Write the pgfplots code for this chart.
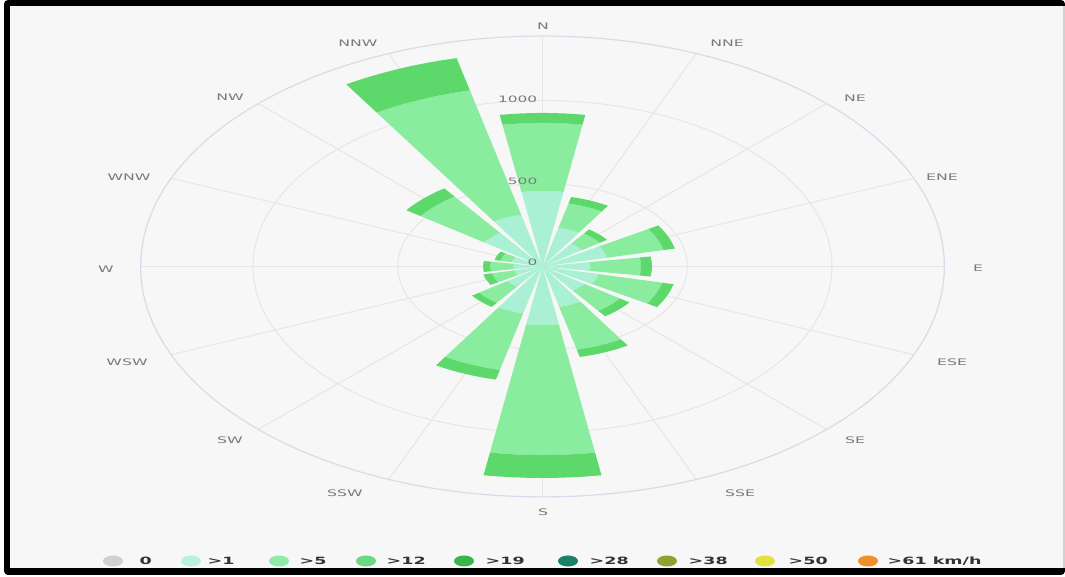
\documentclass[border=0pt]{standalone}
\usepackage{pgfplots}
\pgfplotsset{compat=1.18}
\usepackage{pgfplotstable}
\usepackage{fontspec}
\setmainfont{DejaVu Sans}
\definecolor{bg}{HTML}{F7F7F7}
\definecolor{gridc}{HTML}{E6E6E6}
\definecolor{outerc}{HTML}{D8DCEA}
\definecolor{lab}{HTML}{7A7A7A}
\definecolor{legt}{HTML}{333333}
\definecolor{c0}{HTML}{D0D0D0}
\definecolor{c1}{HTML}{A9F0D5}
\definecolor{c5}{HTML}{8AEC9F}
\definecolor{c12}{HTML}{5DD96C}
\definecolor{l1}{HTML}{B8F2DF}
\definecolor{l5}{HTML}{90EBA8}
\definecolor{l12}{HTML}{6DD882}
\definecolor{c19}{HTML}{3BB54A}
\definecolor{c28}{HTML}{1B8068}
\definecolor{c38}{HTML}{8DA330}
\definecolor{c50}{HTML}{E3E140}
\definecolor{c61}{HTML}{EE8F2C}

% direction (compass degrees) and frequency per speed class
\pgfplotstableread{
dir    s1   s5   s12
0      455  410  60
22.5   240  150  40
45     170  75   30
67.5   230  200  40
90     165  175  38
112.5  200  225  40
135    180  150  40
157.5  250  265  45
180    352  784  138
202.5  290  350  60
225    150  120  30
247.5  100  80   30
270    100  80   25
292.5  110  40   20
315    250  270  60
337.5  320  770  200
}\windtable

\def\halfw{9.2}
\newcommand\sector[4]{%
  \pgfmathsetmacro\thc{90-#1}%
  \gdef\secpts{}%
  \foreach \k in {0,...,8}{%
    \pgfmathsetmacro\ang{\thc+\halfw-2*\halfw*\k/8}%
    \xdef\secpts{\secpts (\ang,#3)}%
  }%
  \foreach \k in {0,...,8}{%
    \pgfmathsetmacro\ang{\thc-\halfw+2*\halfw*\k/8}%
    \xdef\secpts{\secpts (\ang,#2)}%
  }%
  \edef\tmp{\noexpand\addplot[fill=#4,draw=none,data cs=polar,forget plot] coordinates {\secpts} -- cycle;}%
  \tmp
}

\pgfplotstablegetrowsof{\windtable}
\pgfmathtruncatemacro\lastrow{\pgfplotsretval-1}

\begin{document}
\begin{tikzpicture}
\begin{scope}[x=0.5pt,y=-0.5pt,yshift=288.5pt]
  \fill[white] (0,0) rectangle (1065,577);
  \fill[black, rounded corners=2pt] (4,0) rectangle (1065,575);
  \fill[bg] (10,6) rectangle (1063,568);
  \fill[gray!35] (1063,6) rectangle (1065,568);
\end{scope}

\begin{axis}[at={(0,0)}, anchor=south west, scale only axis,
  width=532.5pt, height=288.5pt,
  xmin=-1873.9, xmax=1804.8, ymin=-1870.5, ymax=1605.4,
  hide axis]
  % grid circles
  \draw[gridc, line width=0.5pt] (axis cs:0,0) ellipse [x radius=500, y radius=500];
  \draw[gridc, line width=0.5pt] (axis cs:0,0) ellipse [x radius=1000, y radius=1000];
  % spokes
  \pgfplotsinvokeforeach{0,22.5,45,67.5,90,112.5,135,157.5,180,202.5,225,247.5,270,292.5,315,337.5}{
    \draw[gridc, line width=0.5pt] (axis cs:0,0) -- (axis cs:{1388*sin(#1)},{1388*cos(#1)});
  }
  \draw[outerc, line width=0.6pt] (axis cs:0,0) ellipse [x radius=1388, y radius=1388];
  % wind sectors
  \pgfplotsforeachungrouped \i in {0,...,\lastrow}{%
    \pgfplotstablegetelem{\i}{dir}\of\windtable \let\dd\pgfplotsretval
    \pgfplotstablegetelem{\i}{s1}\of\windtable \let\va\pgfplotsretval
    \pgfplotstablegetelem{\i}{s5}\of\windtable \let\vb\pgfplotsretval
    \pgfplotstablegetelem{\i}{s12}\of\windtable \let\vc\pgfplotsretval
    \pgfmathsetmacro\ra{\va}%
    \pgfmathsetmacro\rb{\va+\vb}%
    \pgfmathsetmacro\rc{\va+\vb+\vc}%
    \sector{\dd}{0}{\ra}{c1}%
    \sector{\dd}{\ra}{\rb}{c5}%
    \sector{\dd}{\rb}{\rc}{c12}%
  }
\end{axis}

\begin{scope}[x=0.5pt,y=-0.5pt,yshift=288.5pt]
  \tikzset{dl/.style={text=lab, font=\fontsize{4.5}{5}\selectfont, xscale=1.75, inner sep=0pt},
           yl/.style={text=lab, font=\fontsize{4.4}{5}\selectfont, xscale=1.75, inner sep=0pt, anchor=east},
           lt/.style={text=legt, font=\fontsize{5}{6}\selectfont\bfseries, xscale=1.75, inner sep=0pt, anchor=west}}
  \node[dl] at (543,26) {N};
  \node[dl] at (727,43) {NNE};
  \node[dl] at (855,98) {NE};
  \node[dl] at (942,177) {ENE};
  \node[dl] at (978,268) {E};
  \node[dl] at (952,362) {ESE};
  \node[dl] at (855,440) {SE};
  \node[dl] at (740,493) {SSE};
  \node[dl] at (543,512) {S};
  \node[dl] at (345,493) {SSW};
  \node[dl] at (230,440) {SW};
  \node[dl] at (127,362) {WSW};
  \node[dl] at (106,269) {W};
  \node[dl] at (129,177) {WNW};
  \node[dl] at (230,97) {NW};
  \node[dl] at (358,43) {NNW};
  \node[yl] at (538,99.5) {1000};
  \node[yl] at (538,181.7) {500};
  \node[yl] at (538,262.5) {0};
  % legend
  \fill[c0]  (113,561) ellipse [x radius=10, y radius=5.5];
  \fill[l1]  (191,561) ellipse [x radius=10, y radius=5.5];
  \fill[l5]  (279,561) ellipse [x radius=10, y radius=5.5];
  \fill[l12] (366,561) ellipse [x radius=10, y radius=5.5];
  \fill[c19] (464,561) ellipse [x radius=10, y radius=5.5];
  \fill[c28] (568,561) ellipse [x radius=10, y radius=5.5];
  \fill[c38] (667,561) ellipse [x radius=10, y radius=5.5];
  \fill[c50] (765,561) ellipse [x radius=10, y radius=5.5];
  \fill[c61] (868,561) ellipse [x radius=10, y radius=5.5];
  \node[lt] at (139,561) {0};
  \node[lt] at (207,561) {>1};
  \node[lt] at (299,561) {>5};
  \node[lt] at (386,561) {>12};
  \node[lt] at (485,561) {>19};
  \node[lt] at (589,561) {>28};
  \node[lt] at (688,561) {>38};
  \node[lt] at (788,561) {>50};
  \node[lt] at (887,561) {>61 km/h};
\end{scope}
\end{tikzpicture}
\end{document}
